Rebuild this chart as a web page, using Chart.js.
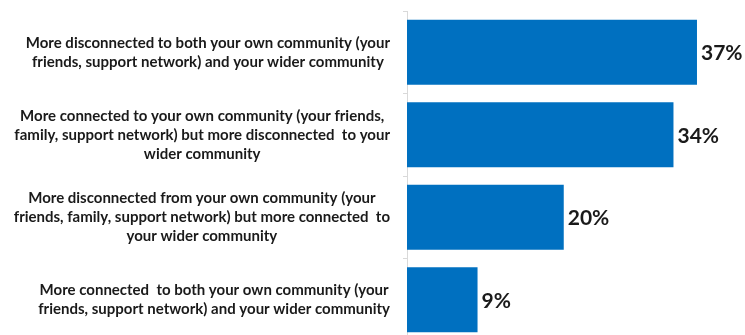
<!DOCTYPE html>
<html>
<head>
<meta charset="utf-8">
<script src="https://cdn.jsdelivr.net/npm/chart.js@4.4.0/dist/chart.umd.min.js"></script>
<style>
    html, body {
        margin: 0;
        padding: 0;
        background: #ffffff;
        overflow: hidden;
    }

    #wrap {
        position: relative;
        width: 745px;
        height: 341px;
    }
</style>
</head>
<body>
<div id="wrap">
    <canvas id="communityChart"></canvas>
</div>

<script>
// ================= DATA =================

const categoryLabels = [
    [
        "More disconnected to both your own community (your",
        "friends, support network) and your wider community"
    ],
    [
        "More connected to your own community (your friends,",
        "family, support network) but more disconnected  to your",
        "wider community"
    ],
    [
        "More disconnected from your own community (your",
        "friends, family, support network) but more connected  to",
        "your wider community"
    ],
    [
        "More connected  to both your own community (your",
        "friends, support network) and your wider community"
    ]
];

const shareValues = [37, 34, 20, 9];

const axisMax = 40;


// ================= LABEL PLUGINS =================

// Category text: each block sits right against the axis, lines centred in it
const categoryText = {

    id: "categoryText",

    afterDraw(chart) {

        const { ctx } = chart;
        const yScale = chart.scales.y;
        const rightEdge = chart.chartArea.left - 17;
        const lineHeight = 19;

        ctx.save();

        ctx.font = "bold 15px Lato";
        ctx.fillStyle = "#1a1a1a";
        ctx.textAlign = "center";
        ctx.textBaseline = "middle";

        categoryLabels.forEach((lines, i) => {

            const widest = Math.max(
                ...lines.map(line => ctx.measureText(line).width)
            );

            const cx = rightEdge - widest / 2;
            const cy = yScale.getPixelForValue(i);
            const top = cy - (lines.length - 1) * lineHeight / 2;

            lines.forEach((line, j) => {
                ctx.fillText(line, cx, top + j * lineHeight);
            });
        });

        ctx.restore();
    }
};

// Percentage next to the end of each bar
const valueText = {

    id: "valueText",

    afterDatasetsDraw(chart) {

        const { ctx } = chart;
        const meta = chart.getDatasetMeta(0);

        ctx.save();

        ctx.font = "bold 21px Lato";
        ctx.fillStyle = "#1a1a1a";
        ctx.textAlign = "left";
        ctx.textBaseline = "middle";

        meta.data.forEach((bar, i) => {
            ctx.fillText(
                shareValues[i] + "%",
                bar.x + 4,
                bar.y + 1
            );
        });

        ctx.restore();
    }
};


// ================= CHART =================

new Chart(
    document.getElementById("communityChart"),
    {
        type: "bar",

        data: {
            labels: categoryLabels,

            datasets: [
                {
                    data: shareValues,

                    backgroundColor: "#0070c0",

                    borderWidth: 0,

                    barPercentage: 0.79,

                    categoryPercentage: 1
                }
            ]
        },

        options: {
            indexAxis: "y",

            responsive: true,

            maintainAspectRatio: false,

            animation: false,

            layout: {
                padding: {
                    top: 11,
                    left: 403,
                    right: 24.5,
                    bottom: 0
                }
            },

            plugins: {
                legend: {
                    display: false
                },

                tooltip: {
                    enabled: false
                }
            },

            scales: {
                x: {
                    display: false,
                    min: 0,
                    max: axisMax
                },

                y: {
                    ticks: {
                        display: false
                    },

                    grid: {
                        drawOnChartArea: false,
                        drawTicks: true,
                        tickLength: 4,
                        color: "#d9d9d9"
                    },

                    border: {
                        display: true,
                        color: "#d9d9d9"
                    }
                }
            }
        },

        plugins: [
            categoryText,
            valueText
        ]
    }
);
</script>
</body>
</html>
